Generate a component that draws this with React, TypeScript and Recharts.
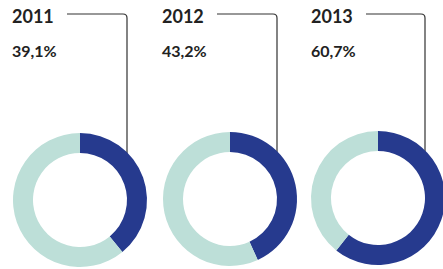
import { Cell, Customized, Pie, PieChart } from "recharts";

const years = ["2011", "2012", "2013"];
const shares = [39.1, 43.2, 60.7];
const shareLabels = ["39,1%", "43,2%", "60,7%"];

const BLUE = "#263a8e";
const LIGHT = "#bddfd8";

const W = 443;
const H = 269;

// layout of each panel (pixels)
const centers = [
  { cx: 80, cy: 200, tx: 12 },
  { cx: 230, cy: 199, tx: 162 },
  { cx: 378, cy: 198, tx: 311 },
];
const OUTER = 67;
const INNER = 47;

function Annotations() {
  return (
    <g>
      {years.map((y, i) => {
        const c = centers[i];
        const lineX = c.cx + 47;
        const endY = c.cy - 40;
        const startX = c.tx + 55;
        const ly = 14;
        const r = 4;
        return (
          <g key={y}>
            <text
              x={c.tx}
              y={23}
              fontFamily="Lato, sans-serif"
              fontWeight={700}
              fontSize={18}
              fill="#222"
            >
              {y}
            </text>
            <text
              x={c.tx}
              y={57}
              fontFamily="Lato, sans-serif"
              fontWeight={700}
              fontSize={16}
              fill="#222"
            >
              {shareLabels[i]}
            </text>
            <path
              d={`M${startX},${ly} H${lineX - r} Q${lineX},${ly} ${lineX},${ly + r} V${endY}`}
              fill="none"
              stroke="#333"
              strokeWidth={1.2}
            />
            <circle cx={lineX} cy={endY} r={2.5} fill="#1a2a40" />
          </g>
        );
      })}
    </g>
  );
}

export default function App() {
  return (
    <div style={{ position: "absolute", left: 0, top: 0, background: "#fff" }}>
      <PieChart width={W} height={H} margin={{ top: 0, right: 0, bottom: 0, left: 0 }}>
        {shares.map((s, i) => (
          <Pie
            key={years[i]}
            data={[
              { name: "share", value: s },
              { name: "rest", value: 100 - s },
            ]}
            dataKey="value"
            cx={centers[i].cx}
            cy={centers[i].cy}
            innerRadius={INNER}
            outerRadius={OUTER}
            startAngle={90}
            endAngle={-270}
            stroke="none"
            isAnimationActive={false}
          >
            <Cell fill={BLUE} />
            <Cell fill={LIGHT} />
          </Pie>
        ))}
        <Customized component={Annotations} />
      </PieChart>
    </div>
  );
}
